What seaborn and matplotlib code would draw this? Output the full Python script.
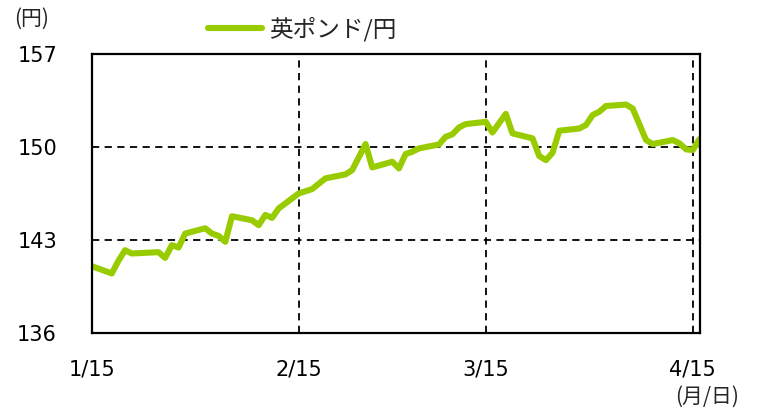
import matplotlib
matplotlib.use("Agg")
import matplotlib.pyplot as plt
import seaborn as sns
import pandas as pd
from matplotlib.lines import Line2D

dates = ["2021-01-15", "2021-01-18", "2021-01-19", "2021-01-20", "2021-01-21",
         "2021-01-25", "2021-01-26", "2021-01-27", "2021-01-28", "2021-01-29",
         "2021-02-01", "2021-02-02", "2021-02-03", "2021-02-04", "2021-02-05",
         "2021-02-08", "2021-02-09", "2021-02-10", "2021-02-11", "2021-02-12",
         "2021-02-15", "2021-02-17", "2021-02-19", "2021-02-22", "2021-02-23",
         "2021-02-25", "2021-02-26", "2021-03-01", "2021-03-02", "2021-03-03",
         "2021-03-04", "2021-03-05", "2021-03-08", "2021-03-09", "2021-03-10",
         "2021-03-11", "2021-03-12", "2021-03-15", "2021-03-16", "2021-03-18",
         "2021-03-19", "2021-03-22", "2021-03-23", "2021-03-24", "2021-03-25",
         "2021-03-26", "2021-03-29", "2021-03-30", "2021-03-31", "2021-04-01",
         "2021-04-02", "2021-04-05", "2021-04-06", "2021-04-08", "2021-04-09",
         "2021-04-12", "2021-04-13", "2021-04-14", "2021-04-15", "2021-04-16"]
gbpjpy = [141.05, 140.5, 141.45, 142.25, 142.0,
          142.1, 141.67, 142.63, 142.45, 143.5,
          143.9, 143.5, 143.33, 142.88, 144.8,
          144.5, 144.13, 144.9, 144.68, 145.39,
          146.52, 146.84, 147.65, 147.95, 148.27,
          150.23, 148.47, 148.9, 148.4, 149.48,
          149.65, 149.9, 150.2, 150.78, 150.96,
          151.48, 151.73, 151.9, 151.1, 152.5,
          151.03, 150.66, 149.33, 149.02, 149.57,
          151.23, 151.4, 151.66, 152.41, 152.66,
          153.09, 153.2, 152.9, 150.53, 150.23,
          150.53, 150.28, 149.83, 149.78, 150.6]
series_name = "英ポンド/円"
y_ticks = [136, 143, 150, 157]
x_ticks = ["2021-01-15", "2021-02-15", "2021-03-15", "2021-04-15"]
x_tick_labels = ["1/15", "2/15", "3/15", "4/15"]

df = pd.DataFrame({"date": pd.to_datetime(dates), "value": gbpjpy, "series": series_name})

sns.set_style("white")
plt.rcParams["font.family"] = ["DejaVu Sans", "Noto Sans CJK JP"]

GREEN = "#99CC00"
fig = plt.figure(figsize=(7.65, 4.12), dpi=100)
ax = fig.add_axes([91.7 / 765, 1 - 333.3 / 412, (699.5 - 91.7) / 765, (333.3 - 54) / 412])

sns.lineplot(data=df, x="date", y="value", hue="series", palette=[GREEN],
             linewidth=4.4, ax=ax, legend=False, solid_joinstyle="round")

ax.set_ylim(136, 157)
ax.set_xlim(pd.Timestamp("2021-01-15"), pd.Timestamp("2021-04-16"))
ax.set_yticks(y_ticks)
ax.set_yticklabels([str(t) for t in y_ticks])
xt = pd.to_datetime(x_ticks)
ax.set_xticks(xt)
ax.set_xticklabels(x_tick_labels)

for t in [143, 150]:
    ax.axhline(t, color="black", linestyle=(0, (4, 3)), linewidth=1.3, zorder=1)
for t in xt[1:]:
    ax.axvline(t, color="black", linestyle=(0, (4, 3)), linewidth=1.3, zorder=1)

for s in ax.spines.values():
    s.set_visible(True)
    s.set_color("black")
    s.set_linewidth(1.6)

ax.tick_params(axis="y", length=0, pad=25, labelsize=15, colors="black")
ax.tick_params(axis="x", length=0, pad=19, labelsize=15, colors="black")
ax.set_xlabel("")
ax.set_ylabel("")

cjk = ["Noto Sans CJK JP", "DejaVu Sans"]
fig.text(14 / 765, 1 - 19 / 412, "(円)", fontsize=15, va="center", ha="left", family=cjk)
fig.text(675 / 765, 1 - 397 / 412, "(月/日)", fontsize=15, va="center", ha="left", family=cjk)

handle = Line2D([0], [0], color=GREEN, linewidth=4.4, solid_capstyle="round")
fig.legend([handle], [series_name], loc="center left",
           bbox_to_anchor=(208 / 765, 1 - 29 / 412), frameon=False,
           borderpad=0, borderaxespad=0,
           handlelength=2.3, handletextpad=0.3,
           prop={"family": cjk, "size": 17})

fig.savefig("out.png", dpi=100)
